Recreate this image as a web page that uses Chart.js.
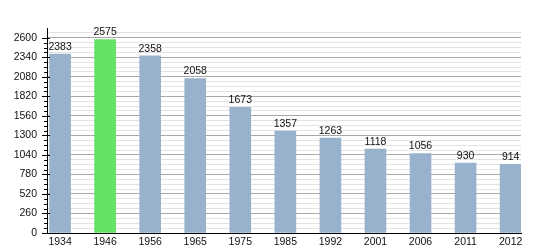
<!DOCTYPE html>
<html>
<head>
<meta charset="utf-8">
<script src="https://cdn.jsdelivr.net/npm/chart.js@4"></script>
<style>
  html, body { margin: 0; padding: 0; background: #fff; }
  #wrap { width: 550px; height: 250px; }
</style>
</head>
<body>
<div id="wrap"><canvas id="c" width="550" height="250"></canvas></div>
<script>
const years = ['1934','1946','1956','1965','1975','1985','1992','2001','2006','2011','2012'];
const population = [2383, 2575, 2358, 2058, 1673, 1357, 1263, 1118, 1056, 930, 914];
const highlightYear = '1946';
const yTickValues = [0, 260, 520, 780, 1040, 1300, 1560, 1820, 2080, 2340, 2600];
const yMinorStep = 65;
const yMax = 2730;

const baseColor = '#98b1cc';
const highlightColor = '#64e264';

const points = population.map((v, i) => ({ x: i, y: v }));

const barLabels = {
  id: 'barLabels',
  afterDatasetsDraw(chart) {
    const ctx = chart.ctx;
    const meta = chart.getDatasetMeta(0);
    ctx.save();
    ctx.font = '10.5px "Liberation Sans", Arial, sans-serif';
    ctx.fillStyle = '#111';
    ctx.textAlign = 'center';
    ctx.textBaseline = 'bottom';
    meta.data.forEach((bar, i) => {
      ctx.fillText(String(population[i]), bar.x, bar.y - 2);
    });
    ctx.restore();
  }
};

const axisTicks = {
  id: 'axisTicks',
  afterDraw(chart) {
    const ctx = chart.ctx;
    const y = chart.scales.y;
    const x0 = chart.chartArea.left;
    ctx.save();
    ctx.strokeStyle = '#000';
    ctx.lineWidth = 1;
    y.ticks.forEach(t => {
      if (t.value > 2600) return;
      const py = Math.round(y.getPixelForValue(t.value)) + 0.5;
      const major = yTickValues.includes(t.value);
      ctx.beginPath();
      ctx.moveTo(x0 - (major ? 5 : 3), py);
      ctx.lineTo(x0 + (major ? 3 : 0), py);
      ctx.stroke();
    });
    ctx.restore();
  }
};

new Chart(document.getElementById('c'), {
  type: 'bar',
  data: {
    datasets: [{
      data: points,
      backgroundColor: years.map(y => y === highlightYear ? highlightColor : baseColor),
      barThickness: 21,
      borderWidth: 0
    }]
  },
  options: {
    responsive: false,
    animation: false,
    layout: { padding: { top: 28, right: 29, left: 0, bottom: 0 } },
    plugins: { legend: { display: false }, tooltip: { enabled: false } },
    scales: {
      x: {
        type: 'linear',
        offset: false,
        min: -0.29,
        max: 10.23,
        afterBuildTicks: axis => { axis.ticks = years.map((_, i) => ({ value: i })); },
        afterFit: axis => { axis.height = 17; },
        grid: { display: false, drawTicks: false, offset: false },
        border: { color: '#000', width: 1 },
        ticks: {
          autoSkip: false,
          maxRotation: 0,
          padding: 3,
          color: '#111',
          font: { family: '"Liberation Sans", Arial, sans-serif', size: 10.5 },
          callback: v => years[v]
        }
      },
      y: {
        min: 0,
        max: yMax,
        afterBuildTicks: axis => {
          const t = [];
          for (let v = 0; v <= yMax; v += yMinorStep) t.push({ value: v });
          axis.ticks = t;
        },
        afterFit: axis => { axis.width = 47; },
        grid: {
          drawTicks: false,
          color: c => (c.tick && c.tick.value > 2665) ? 'rgba(0,0,0,0)' :
                      (c.tick && yTickValues.includes(c.tick.value) ? '#a8a8a8' : '#e3e3e3'),
          lineWidth: 1
        },
        border: { color: '#000', width: 1 },
        ticks: {
          autoSkip: false,
          padding: 10,
          color: '#111',
          font: { family: '"Liberation Sans", Arial, sans-serif', size: 10.5 },
          callback: v => yTickValues.includes(v) ? String(v) : ''
        }
      }
    }
  },
  plugins: [barLabels, axisTicks]
});
</script>
</body>
</html>
